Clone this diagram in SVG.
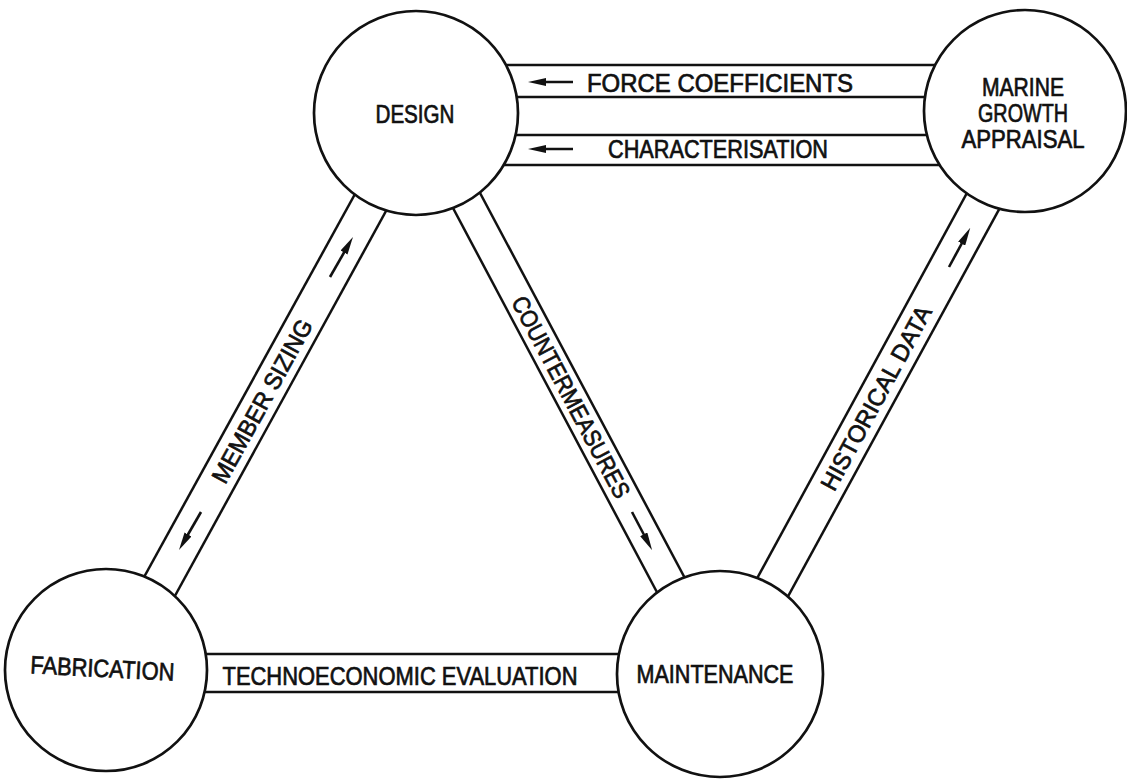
<svg xmlns="http://www.w3.org/2000/svg" width="1127" height="779" viewBox="0 0 1127 779">
  <style>
    .band { stroke: #111; stroke-width: 2.5; fill: none; stroke-linecap: butt; }
    .node { stroke: #111; stroke-width: 2.7; fill: #fff; }
    .lbl { font-family: "Liberation Sans", Arial, sans-serif; font-size: 25px; fill: #111; stroke: #111; stroke-width: 0.7; text-anchor: middle; }
    .rot { font-size: 24px; }
    .arrow { stroke: #111; stroke-width: 2.6; fill: none; marker-end: url(#head); }
  </style>
  <defs>
    <marker id="head" viewBox="0 0 18 8" refX="7" refY="4" markerWidth="18" markerHeight="8" markerUnits="userSpaceOnUse" orient="auto">
      <path d="M0,0 L18,4 L0,8 z" fill="#111"/>
    </marker>
  </defs>
  <rect width="1127" height="779" fill="#fff"/>

  <!-- connectors: double-line channels drawn under the nodes -->
  <g id="connectors">
    <!-- Design <-> Marine growth appraisal -->
    <line class="band" x1="470" y1="65" x2="980" y2="65"/>
    <line class="band" x1="470" y1="97" x2="980" y2="97"/>
    <line class="band" x1="470" y1="135" x2="980" y2="135"/>
    <line class="band" x1="470" y1="165" x2="980" y2="165"/>
    <line class="arrow" x1="573" y1="82" x2="539" y2="82"/>
    <line class="arrow" x1="573" y1="149" x2="539" y2="149"/>
    <text class="lbl" x="720" y="92" textLength="266" lengthAdjust="spacingAndGlyphs">FORCE  COEFFICIENTS</text>
    <text class="lbl" x="718" y="158" textLength="220" lengthAdjust="spacingAndGlyphs">CHARACTERISATION</text>

    <!-- Fabrication <-> Design -->
    <line class="band" x1="382" y1="145" x2="116" y2="628"/>
    <line class="band" x1="414" y1="160" x2="148" y2="645"/>
    <line class="arrow" x1="330" y1="277" x2="347.5" y2="246.5"/>
    <line class="arrow" x1="201" y1="512" x2="184.5" y2="540.5"/>
    <text class="lbl rot" transform="translate(262,401) rotate(-61.1)" x="0" y="8.5" textLength="183" lengthAdjust="spacingAndGlyphs">MEMBER  SIZING</text>

    <!-- Design <-> Maintenance -->
    <line class="band" x1="427" y1="159" x2="685" y2="645"/>
    <line class="band" x1="454" y1="144" x2="713" y2="631"/>
    <line class="arrow" x1="632" y1="512" x2="647" y2="540.5"/>
    <text class="lbl rot" transform="translate(571,397) rotate(62)" x="0" y="8.5" textLength="225" lengthAdjust="spacingAndGlyphs">COUNTERMEASURES</text>

    <!-- Maintenance <-> Marine growth appraisal -->
    <line class="band" x1="992" y1="147" x2="729" y2="630"/>
    <line class="band" x1="1026" y1="160" x2="761" y2="646"/>
    <line class="arrow" x1="949" y1="267" x2="965" y2="237.5"/>
    <text class="lbl rot" transform="translate(876,398) rotate(-61.5)" x="0" y="8.5" textLength="206" lengthAdjust="spacingAndGlyphs">HISTORICAL  DATA</text>

    <!-- Fabrication <-> Maintenance -->
    <line class="band" x1="180" y1="654" x2="650" y2="654"/>
    <line class="band" x1="180" y1="692" x2="650" y2="692"/>
    <text class="lbl" x="400" y="685" textLength="355" lengthAdjust="spacingAndGlyphs">TECHNOECONOMIC  EVALUATION</text>
  </g>

  <!-- nodes -->
  <g id="design">
    <circle class="node" cx="416" cy="113" r="102"/>
    <text class="lbl" x="415" y="123" textLength="79" lengthAdjust="spacingAndGlyphs">DESIGN</text>
  </g>
  <g id="marine-growth-appraisal">
    <circle class="node" cx="1025" cy="111" r="101"/>
    <text class="lbl" x="1023" y="96" font-size="22" textLength="82" lengthAdjust="spacingAndGlyphs">MARINE</text>
    <text class="lbl" x="1023" y="122" font-size="22" textLength="90" lengthAdjust="spacingAndGlyphs">GROWTH</text>
    <text class="lbl" x="1023" y="148" font-size="22" textLength="123" lengthAdjust="spacingAndGlyphs">APPRAISAL</text>
  </g>
  <g id="fabrication">
    <circle class="node" cx="106" cy="670" r="101"/>
    <text class="lbl" transform="translate(102,677) rotate(3)" x="0" y="0" textLength="144" lengthAdjust="spacingAndGlyphs">FABRICATION</text>
  </g>
  <g id="maintenance">
    <circle class="node" cx="720" cy="674" r="103"/>
    <text class="lbl" x="715" y="683" textLength="157" lengthAdjust="spacingAndGlyphs">MAINTENANCE</text>
  </g>
</svg>
